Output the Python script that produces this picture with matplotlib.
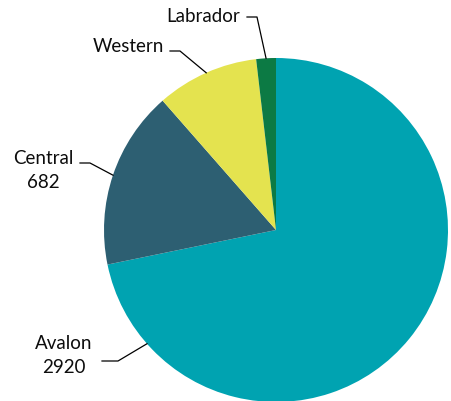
import numpy as np
import matplotlib

matplotlib.use("Agg")
import matplotlib.pyplot as plt

# Datos
regions = ["Avalon", "Central", "Western", "Labrador"]
values = [2920, 682, 391, 75]
show_value = [True, True, False, False]
colors = ["#00A3B1", "#2D5F72", "#E4E34F", "#0C7A44"]

W, H = 451, 402
fig = plt.figure(figsize=(W / 100, H / 100), dpi=100)
ax = fig.add_axes([0, 0, 1, 1])

cx, cy, r = 276, H - 231, 172
wedges, _ = ax.pie(values, colors=colors, startangle=90, counterclock=False,
                   center=(cx, cy), radius=r, frame=True,
                   wedgeprops=dict(linewidth=0))
ax.set_xlim(0, W)
ax.set_ylim(0, H)
ax.axis("off")

# posiciones de etiqueta (texto) y del extremo horizontal del conector
label_xy = {"Avalon": (64, H - 356), "Central": (43, H - 171),
            "Western": (128, H - 47), "Labrador": (203, H - 16)}
elbow = {"Avalon": [(102, H - 362), (118, H - 362)],
         "Central": [(80, H - 164), (90, H - 164)],
         "Western": [(170, H - 52), (180, H - 52)],
         "Labrador": [(247, H - 18), (257, H - 18)]}
anchor_angle = {"Avalon": 228.6}

for w, name, val, sv in zip(wedges, regions, values, show_value):
    ang = anchor_angle.get(name, None)
    if ang is None:
        mid = np.deg2rad((w.theta1 + w.theta2) / 2)
    else:
        mid = np.deg2rad(90 - ang)
    ax_pt = (cx + r * np.cos(mid), cy + r * np.sin(mid))
    pts = elbow[name] + [ax_pt]
    ax.plot([p[0] for p in pts], [p[1] for p in pts], color="black", lw=0.9)
    txt = f"{name}\n{val}" if sv else name
    ax.text(*label_xy[name], txt, ha="center", va="center", fontsize=13.5,
            family="Lato", color="#0d0d0d", linespacing=1.5)

fig.savefig("out.png", dpi=100)
